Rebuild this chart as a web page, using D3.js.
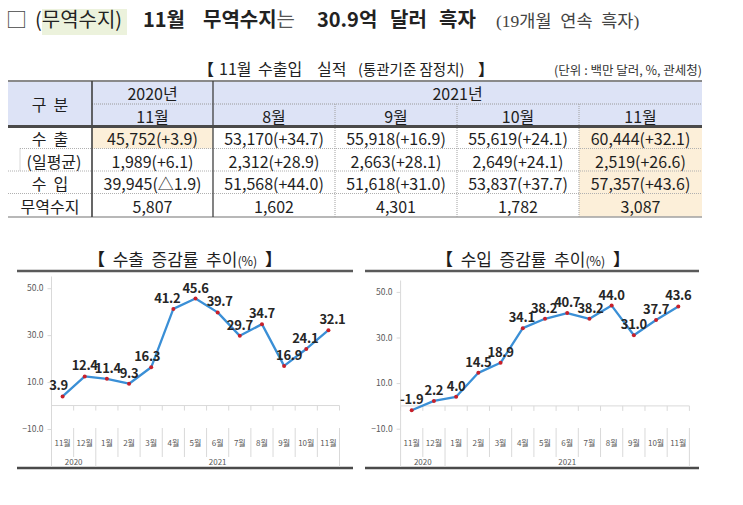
<!DOCTYPE html>
<html><head><meta charset="utf-8">
<script src="https://cdn.jsdelivr.net/npm/d3@7"></script>
<style>
body{margin:0;background:#fff;}
svg{display:block;}
text{font-family:"Noto Sans CJK KR","Noto Sans",sans-serif;}
.pre{white-space:pre;}
</style>
</head><body>
<script>
// ---------------- data ----------------
const yearHeaders = ["2020년", "2021년"];
const monthHeaders = ["11월", "8월", "9월", "10월", "11월"];
const rowLabels = ["수  출", "(일평균)", "수  입", "무역수지"];
const exportValues = ["45,752(+3.9)", "53,170(+34.7)", "55,918(+16.9)", "55,619(+24.1)", "60,444(+32.1)"];
const dailyAvgValues = ["1,989(+6.1)", "2,312(+28.9)", "2,663(+28.1)", "2,649(+24.1)", "2,519(+26.6)"];
const importValues = ["39,945(△1.9)", "51,568(+44.0)", "51,618(+31.0)", "53,837(+37.7)", "57,357(+43.6)"];
const balanceValues = ["5,807", "1,602", "4,301", "1,782", "3,087"];

const chartMonths = ["11월", "12월", "1월", "2월", "3월", "4월", "5월", "6월", "7월", "8월", "9월", "10월", "11월"];
const chartYears = ["2020", "2021"];
const chartYearSpans = [2, 11];
const exportGrowth = [3.9, 12.4, 11.4, 9.3, 16.3, 41.2, 45.6, 39.7, 29.7, 34.7, 16.9, 24.1, 32.1];
const importGrowth = [-1.9, 2.2, 4.0, 14.5, 18.9, 34.1, 38.2, 40.7, 38.2, 44.0, 31.0, 37.7, 43.6];
const yTickValues = [-10, 10, 30, 50];

// label nudges (layout only, px)
const exportLabelDx = [-4, 0, 1, 0, -4, -6, 0, 2, 0, 0, 5, -1, 4];
const importLabelDx = [0, 0, 0, 0, 0, -1, -1, 0, 1, 0, 0, 0, 0];

// ---------------- drawing ----------------
const svg = d3.select("body").append("svg").attr("width", 743).attr("height", 505);

// Page title
svg.append("rect").attr("x", 42).attr("y", 9).attr("width", 85).attr("height", 26).attr("fill", "#ecf2dc");
const title = svg.append("text").attr("y", 27).attr("font-size", 20).attr("fill", "#222");
title.append("tspan").attr("x", 6).attr("font-size", 21).attr("fill", "#444").text("□");
title.append("tspan").attr("x", 35).text("(무역수지)");
title.append("tspan").attr("x", 143).attr("font-weight", "bold").text("11월");
title.append("tspan").attr("x", 203).attr("font-weight", "bold").text("무역수지");
title.append("tspan").attr("font-weight", "normal").attr("fill", "#555").text("는");
title.append("tspan").attr("x", 317).attr("font-weight", "bold").text("30.9억");
title.append("tspan").attr("x", 390).attr("font-weight", "bold").text("달러");
title.append("tspan").attr("x", 439).attr("font-weight", "bold").text("흑자");
title.append("tspan").attr("x", 496).attr("font-size", 17.5)
  .attr("font-family", "'Liberation Serif','Noto Sans CJK KR',serif").attr("fill", "#444").attr("class", "pre")
  .text("(19개월  연속  흑자)");

// Table subtitle
const sub = svg.append("text").attr("y", 75).attr("fill", "#222").attr("font-size", 16);
sub.append("tspan").attr("x", 198).attr("font-weight", "bold").text("【");
sub.append("tspan").attr("x", 219).text("11월");
sub.append("tspan").attr("x", 258).text("수출입");
sub.append("tspan").attr("x", 317).text("실적");
sub.append("tspan").attr("x", 358).attr("font-size", 14.5).text("(통관기준 잠정치)");
sub.append("tspan").attr("x", 478).attr("font-weight", "bold").text("】");
svg.append("text").attr("x", 702).attr("y", 75).attr("text-anchor", "end").attr("font-size", 12.5)
  .attr("fill", "#333").text("(단위 : 백만 달러, %, 관세청)");

// Table
const colX = [8, 92, 213, 335, 457, 579, 702];
const rowY = [81, 104, 126.5, 148.5, 171, 193.5, 217];
const tableRows = [exportValues, dailyAvgValues, importValues, balanceValues];

const tbl = svg.append("g");
tbl.append("rect").attr("x", colX[0]).attr("y", rowY[0]).attr("width", colX[6] - colX[0]).attr("height", rowY[2] - rowY[0]).attr("fill", "#dde3f6");
tbl.append("rect").attr("x", colX[1]).attr("y", rowY[2]).attr("width", colX[2] - colX[1]).attr("height", rowY[3] - rowY[2]).attr("fill", "#fcefd9");
tbl.append("rect").attr("x", colX[5]).attr("y", rowY[2]).attr("width", colX[6] - colX[5]).attr("height", rowY[6] - rowY[2]).attr("fill", "#fcefd9");

function hline(g, x1, x2, y, stroke, w, dash) {
  g.append("line").attr("x1", x1).attr("x2", x2).attr("y1", y).attr("y2", y)
    .attr("stroke", stroke).attr("stroke-width", w).attr("stroke-dasharray", dash || null);
}
function vline(g, x, y1, y2, stroke, w, dash) {
  g.append("line").attr("x1", x).attr("x2", x).attr("y1", y1).attr("y2", y2)
    .attr("stroke", stroke).attr("stroke-width", w).attr("stroke-dasharray", dash || null);
}
hline(tbl, colX[0], colX[6], rowY[0], "#8a8a8a", 2);
hline(tbl, colX[1], colX[6], rowY[1], "#9a9a9a", 1, "1,1");
hline(tbl, 20, colX[6], rowY[3], "#b0b0b0", 1, "1,1");
hline(tbl, colX[0], colX[6], rowY[4], "#b0b0b0", 1, "1,1");
hline(tbl, colX[0], colX[6], rowY[5], "#b0b0b0", 1, "1,1");
hline(tbl, colX[0], colX[6], rowY[6], "#a0a0a0", 1.5);
vline(tbl, 20, rowY[3], rowY[4], "#b0b0b0", 1, "1,1");
vline(tbl, colX[1], rowY[0], rowY[6], "#404040", 1.6);
vline(tbl, colX[2], rowY[0], rowY[6], "#404040", 1.3);
[3, 4, 5].forEach(i => vline(tbl, colX[i], rowY[1], rowY[6], "#a0a0a0", 1, "1,1"));
hline(tbl, colX[0], colX[6], rowY[2], "#4a4a4a", 3);

const tfont = 16, tcol = "#1e1e1e";
function ctext(x, y, t) {
  tbl.append("text").attr("x", x).attr("y", y).attr("text-anchor", "middle").attr("dominant-baseline", "central")
    .attr("font-size", tfont).attr("fill", tcol).attr("class", "pre").text(t);
}
ctext((colX[0] + colX[1]) / 2, (rowY[0] + rowY[2]) / 2, "구  분");
ctext((colX[1] + colX[2]) / 2, (rowY[0] + rowY[1]) / 2 + 0.5, yearHeaders[0]);
ctext((colX[2] + colX[6]) / 2, (rowY[0] + rowY[1]) / 2 + 0.5, yearHeaders[1]);
monthHeaders.forEach((m, i) => ctext((colX[i + 1] + colX[i + 2]) / 2, (rowY[1] + rowY[2]) / 2 + 0.5, m));
const labelCx = [50, 54, 50, 50];
rowLabels.forEach((l, r) => ctext(labelCx[r], (rowY[r + 2] + rowY[r + 3]) / 2 + 0.8, l));
tableRows.forEach((vals, r) => vals.forEach((v, i) =>
  ctext((colX[i + 1] + colX[i + 2]) / 2, (rowY[r + 2] + rowY[r + 3]) / 2 + 0.8, v)));

// Charts
function drawChart(cfg) {
  const g = svg.append("g");
  const n = chartMonths.length;
  const x = d3.scaleBand().domain(d3.range(n)).range([cfg.px0, cfg.px1]).padding(0);
  const y = d3.scaleLinear().domain([-10, 55]).range([cfg.yBot, cfg.yTop]);
  const bw = x.bandwidth();
  const cx = i => x(i) + bw / 2;

  // title
  const t = g.append("text").attr("x", cfg.titleX).attr("y", 266).attr("text-anchor", "middle")
    .attr("font-size", 17).attr("fill", "#1e1e1e").attr("class", "pre");
  t.append("tspan").attr("font-weight", "bold").text("【  ");
  t.append("tspan").text(cfg.title);
  t.append("tspan").attr("font-size", 12.5).text("(%)");
  t.append("tspan").attr("font-weight", "bold").text("  】");

  // frame lines
  hline(g, cfg.fx0, cfg.fx1, 271, "#5a5a5a", 2.5);
  hline(g, cfg.fx0, cfg.fx1, 468, "#4a4a4a", 2.5);

  // y axis
  vline(g, cfg.px0, cfg.yTop, 467, "#d9d9d9", 1);
  const ya = g.append("g").attr("transform", `translate(${cfg.px0},0)`)
    .call(d3.axisLeft(y).tickValues(yTickValues).tickFormat(d3.format(".1f")).tickSize(4).tickPadding(4));
  ya.select(".domain").remove();
  ya.selectAll("line").attr("stroke", "#d9d9d9");
  ya.selectAll("text").attr("fill", "#595959").attr("font-size", 8.5)
    .attr("font-family", "'Liberation Sans Narrow','Liberation Sans',sans-serif");

  // x axis at zero
  const y0 = y(0);
  hline(g, cfg.px0, cfg.px1, y0, "#d9d9d9", 1);
  d3.range(n + 1).forEach(i => {
    const bx = cfg.px0 + i * bw;
    vline(g, bx, y0, y0 + 5, "#d9d9d9", 1);
  });
  // category separators
  const yearBounds = [0];
  chartYearSpans.reduce((a, s) => { yearBounds.push(a + s); return a + s; }, 0);
  d3.range(1, n + 1).forEach(i => {
    const bx = cfg.px0 + i * bw;
    const isYear = yearBounds.includes(i);
    vline(g, bx, 428, isYear ? 467 : 457, "#d9d9d9", 1);
  });
  chartMonths.forEach((m, i) => {
    g.append("text").attr("x", cx(i)).attr("y", 442).attr("text-anchor", "middle").attr("dominant-baseline", "central")
      .attr("font-size", 8).attr("fill", "#595959").text(m);
  });
  chartYears.forEach((yr, k) => {
    const a = yearBounds[k], b = yearBounds[k + 1];
    g.append("text").attr("x", cfg.px0 + (a + b) / 2 * bw).attr("y", 461).attr("text-anchor", "middle")
      .attr("dominant-baseline", "central").attr("font-size", 8).attr("fill", "#595959")
      .attr("font-family", "'Liberation Sans Narrow','Liberation Sans',sans-serif").text(yr);
  });

  // line
  g.append("path").datum(cfg.values)
    .attr("d", d3.line().x((d, i) => cx(i)).y(d => y(d)))
    .attr("fill", "none").attr("stroke", "#3a8fd6").attr("stroke-width", 2.3).attr("stroke-linejoin", "round");
  g.selectAll(".mk").data(cfg.values).enter().append("circle")
    .attr("cx", (d, i) => cx(i)).attr("cy", d => y(d)).attr("r", 2).attr("fill", "#c8202a");
  g.selectAll(".vl").data(cfg.values).enter().append("text")
    .attr("x", (d, i) => cx(i) + cfg.dx[i]).attr("y", d => y(d) - 6).attr("text-anchor", "middle")
    .attr("font-size", 13).attr("font-weight", "bold").attr("fill", "#262626")
    .attr("letter-spacing", -0.3)
    .attr("font-family", "'Liberation Sans Narrow','DejaVu Sans Condensed',sans-serif")
    .text(d => d.toFixed(1));
}

drawChart({ values: exportGrowth, dx: exportLabelDx, title: "수출  증감률  추이", titleX: 185,
  fx0: 17, fx1: 353, px0: 51.5, px1: 339.5, yTop: 276.5, yBot: 429 });
drawChart({ values: importGrowth, dx: importLabelDx, title: "수입  증감률  추이", titleX: 533,
  fx0: 365, fx1: 699, px0: 400.6, px1: 689.4, yTop: 280.5, yBot: 428.7 });
</script>
</body></html>
